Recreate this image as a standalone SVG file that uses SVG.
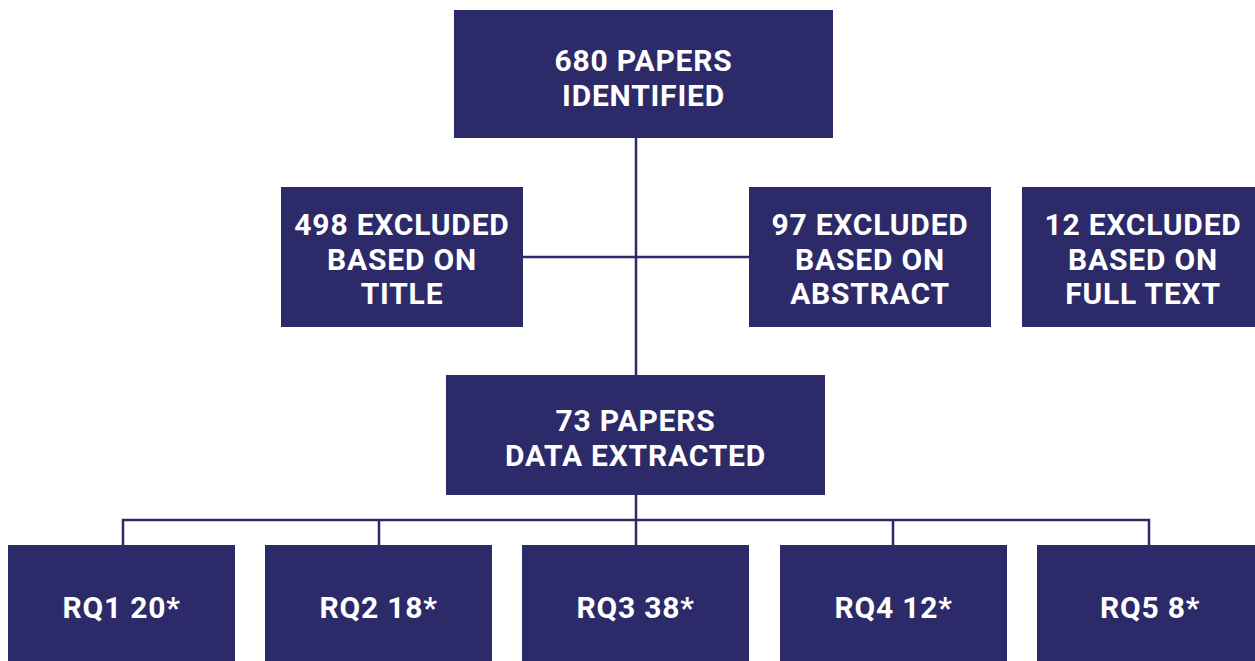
<svg xmlns="http://www.w3.org/2000/svg" width="1255" height="661" viewBox="0 0 1255 661">
<style>
.box{fill:#2D2A6A}
.t{fill:#ffffff;font-family:Roboto,"Liberation Sans",sans-serif;font-weight:700;font-size:30px;text-anchor:middle;letter-spacing:0.8px}
.c{stroke:#2D2A6A;stroke-width:2.5;fill:none}
</style>
<rect width="1255" height="661" fill="#ffffff"/>
<g id="connectors">
<line class="c" x1="636" y1="138" x2="636" y2="375"/>
<line class="c" x1="523" y1="257" x2="749" y2="257"/>
<line class="c" x1="636" y1="495" x2="636" y2="545"/>
<polyline class="c" points="123,545 123,520 1149,520 1149,545"/>
<line class="c" x1="379" y1="520" x2="379" y2="545"/>
<line class="c" x1="893" y1="520" x2="893" y2="545"/>
</g>
<g id="n680"><rect class="box" x="454" y="10" width="379" height="128"/><text class="t" x="643.5" y="71">680 PAPERS</text><text class="t" x="643.5" y="106">IDENTIFIED</text></g>
<g id="n498"><rect class="box" x="281" y="187" width="242" height="140"/><text class="t" x="402" y="235">498 EXCLUDED</text><text class="t" x="402" y="270">BASED ON</text><text class="t" x="402" y="304">TITLE</text></g>
<g id="n97"><rect class="box" x="749" y="187" width="242" height="140"/><text class="t" x="870" y="235">97 EXCLUDED</text><text class="t" x="870" y="270">BASED ON</text><text class="t" x="870" y="304">ABSTRACT</text></g>
<g id="n12"><rect class="box" x="1022" y="187" width="233" height="140"/><text class="t" x="1143" y="235">12 EXCLUDED</text><text class="t" x="1143" y="270">BASED ON</text><text class="t" x="1143" y="304">FULL TEXT</text></g>
<g id="n73"><rect class="box" x="446" y="375" width="379" height="120"/><text class="t" x="635.5" y="431">73 PAPERS</text><text class="t" x="635.5" y="466">DATA EXTRACTED</text></g>
<g id="rq1"><rect class="box" x="8" y="545" width="227" height="116"/><text class="t" x="121.5" y="618">RQ1 20*</text></g>
<g id="rq2"><rect class="box" x="265" y="545" width="227" height="116"/><text class="t" x="378.5" y="618">RQ2 18*</text></g>
<g id="rq3"><rect class="box" x="522" y="545" width="227" height="116"/><text class="t" x="635.5" y="618">RQ3 38*</text></g>
<g id="rq4"><rect class="box" x="780" y="545" width="227" height="116"/><text class="t" x="893.5" y="618">RQ4 12*</text></g>
<g id="rq5"><rect class="box" x="1037" y="545" width="218" height="116"/><text class="t" x="1150" y="618">RQ5 8*</text></g>
</svg>
